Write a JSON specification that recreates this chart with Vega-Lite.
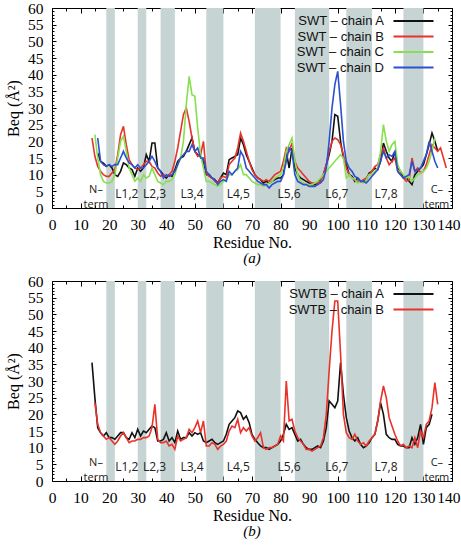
{
"$schema": "https://vega.github.io/schema/vega-lite/v6.json",
"padding": {"left": 5, "top": 0, "right": 9, "bottom": 0},
"spacing": 7,
"resolve": {"scale": {"color": "independent"}},
"config": {
 "view": {"stroke": "black", "strokeWidth": 1},
 "axis": {"grid": false, "domain": false, "tickColor": "black", "tickWidth": 1, "labelColor": "black", "labelFont": "Liberation Serif", "labelFontSize": 15.5, "titleFont": "Liberation Serif", "titleFontSize": 16, "titleFontWeight": "normal", "titleColor": "black", "labelOverlap": false, "labelFlush": false},
 "text": {"font": "Open Sans", "fontSize": 12, "color": "#222222"},
 "legend": {"orient": "none", "legendX": 330, "legendY": 6.5, "symbolType": "M1,0H9", "symbolSize": 100, "symbolStrokeWidth": 1.8, "labelAlign": "right", "labelOffset": -11, "labelFont": "Liberation Sans", "labelFontSize": 13, "labelColor": "#111111", "rowPadding": 1.5, "padding": 0}
},
"datasets": {
 "bands": [{"s":19,"e":22},{"s":30,"e":33},{"s":38,"e":43},{"s":54,"e":60},{"s":71,"e":80},{"s":85,"e":97},{"s":103,"e":112},{"s":123,"e":130}],
 "loops": [{"t":"L1,2","r":26.2},{"t":"L2,3","r":35.9},{"t":"L3,4","r":49},{"t":"L4,5","r":65.2},{"t":"L5,6","r":83},{"t":"L6,7","r":99.7},{"t":"L7,8","r":116.9}],
 "ends": [{"h":"N–","tl":"term","r":15.4},{"h":"C–","tl":"term","r":134.7}],
 "a": [
{"c":"A","r":16,"b":16.5},{"c":"A","r":17,"b":14},{"c":"A","r":18,"b":13.5},{"c":"A","r":19,"b":12.5},{"c":"A","r":20,"b":13},{"c":"A","r":21,"b":12},{"c":"A","r":22,"b":10},{"c":"A","r":23,"b":9.5},{"c":"A","r":24,"b":11},{"c":"A","r":25,"b":13.5},{"c":"A","r":26,"b":13},{"c":"A","r":27,"b":12},{"c":"A","r":28,"b":11.5},{"c":"A","r":29,"b":9.5},{"c":"A","r":30,"b":12},{"c":"A","r":31,"b":11},{"c":"A","r":32,"b":12},{"c":"A","r":33,"b":16},{"c":"A","r":34,"b":14},{"c":"A","r":35,"b":19.5},{"c":"A","r":36,"b":19.5},{"c":"A","r":37,"b":12},{"c":"A","r":38,"b":11},{"c":"A","r":39,"b":10},{"c":"A","r":40,"b":9},{"c":"A","r":41,"b":10},{"c":"A","r":42,"b":9.5},{"c":"A","r":43,"b":11.5},{"c":"A","r":44,"b":14},{"c":"A","r":45,"b":15},{"c":"A","r":46,"b":15.5},{"c":"A","r":47,"b":17},{"c":"A","r":48,"b":19},{"c":"A","r":49,"b":21},{"c":"A","r":50,"b":17},{"c":"A","r":51,"b":16},{"c":"A","r":52,"b":15.5},{"c":"A","r":53,"b":14},{"c":"A","r":54,"b":10},{"c":"A","r":55,"b":10},{"c":"A","r":56,"b":9},{"c":"A","r":57,"b":8.5},{"c":"A","r":58,"b":7.5},{"c":"A","r":59,"b":9},{"c":"A","r":60,"b":10.5},{"c":"A","r":61,"b":10},{"c":"A","r":62,"b":14.5},{"c":"A","r":63,"b":15},{"c":"A","r":64,"b":15.5},{"c":"A","r":65,"b":16},{"c":"A","r":66,"b":21},{"c":"A","r":67,"b":19},{"c":"A","r":68,"b":16},{"c":"A","r":69,"b":14},{"c":"A","r":70,"b":12},{"c":"A","r":71,"b":10},{"c":"A","r":72,"b":9},{"c":"A","r":73,"b":8.5},{"c":"A","r":74,"b":7.5},{"c":"A","r":75,"b":8},{"c":"A","r":76,"b":7.5},{"c":"A","r":77,"b":8},{"c":"A","r":78,"b":8.5},{"c":"A","r":79,"b":9},{"c":"A","r":80,"b":9},{"c":"A","r":81,"b":10},{"c":"A","r":82,"b":17},{"c":"A","r":83,"b":12},{"c":"A","r":84,"b":18},{"c":"A","r":85,"b":12},{"c":"A","r":86,"b":10},{"c":"A","r":87,"b":9},{"c":"A","r":88,"b":8.5},{"c":"A","r":89,"b":8},{"c":"A","r":90,"b":7.5},{"c":"A","r":91,"b":7},{"c":"A","r":92,"b":7},{"c":"A","r":93,"b":7.5},{"c":"A","r":94,"b":8.5},{"c":"A","r":95,"b":10},{"c":"A","r":96,"b":13},{"c":"A","r":97,"b":16},{"c":"A","r":98,"b":20},{"c":"A","r":99,"b":28},{"c":"A","r":100,"b":27.5},{"c":"A","r":101,"b":20},{"c":"A","r":102,"b":15},{"c":"A","r":103,"b":13},{"c":"A","r":104,"b":10},{"c":"A","r":105,"b":9.5},{"c":"A","r":106,"b":8},{"c":"A","r":107,"b":9},{"c":"A","r":108,"b":8},{"c":"A","r":109,"b":8},{"c":"A","r":110,"b":8.5},{"c":"A","r":111,"b":10.5},{"c":"A","r":112,"b":11},{"c":"A","r":113,"b":12},{"c":"A","r":114,"b":11.5},{"c":"A","r":115,"b":14},{"c":"A","r":116,"b":19.5},{"c":"A","r":117,"b":17},{"c":"A","r":118,"b":15},{"c":"A","r":119,"b":14},{"c":"A","r":120,"b":17},{"c":"A","r":121,"b":12},{"c":"A","r":122,"b":11},{"c":"A","r":123,"b":9},{"c":"A","r":124,"b":9},{"c":"A","r":125,"b":8},{"c":"A","r":126,"b":7},{"c":"A","r":127,"b":10},{"c":"A","r":128,"b":11},{"c":"A","r":129,"b":12},{"c":"A","r":130,"b":13},{"c":"A","r":131,"b":16},{"c":"A","r":132,"b":19},{"c":"A","r":133,"b":22.5},{"c":"A","r":134,"b":20},{"c":"A","r":135,"b":17},
{"c":"B","r":14,"b":21},{"c":"B","r":15,"b":15.5},{"c":"B","r":16,"b":12.5},{"c":"B","r":17,"b":11},{"c":"B","r":18,"b":10},{"c":"B","r":19,"b":9.5},{"c":"B","r":20,"b":9.5},{"c":"B","r":21,"b":10.5},{"c":"B","r":22,"b":11.5},{"c":"B","r":23,"b":16},{"c":"B","r":24,"b":22},{"c":"B","r":25,"b":24.5},{"c":"B","r":26,"b":19},{"c":"B","r":27,"b":14.5},{"c":"B","r":28,"b":13},{"c":"B","r":29,"b":12},{"c":"B","r":30,"b":11.5},{"c":"B","r":31,"b":12},{"c":"B","r":32,"b":13},{"c":"B","r":33,"b":14},{"c":"B","r":34,"b":14},{"c":"B","r":35,"b":12.5},{"c":"B","r":36,"b":12},{"c":"B","r":37,"b":10.5},{"c":"B","r":38,"b":9.5},{"c":"B","r":39,"b":10},{"c":"B","r":40,"b":9.5},{"c":"B","r":41,"b":10},{"c":"B","r":42,"b":11},{"c":"B","r":43,"b":14},{"c":"B","r":44,"b":18},{"c":"B","r":45,"b":23},{"c":"B","r":46,"b":28},{"c":"B","r":47,"b":30},{"c":"B","r":48,"b":26},{"c":"B","r":49,"b":21},{"c":"B","r":50,"b":17},{"c":"B","r":51,"b":15.5},{"c":"B","r":52,"b":16},{"c":"B","r":53,"b":20},{"c":"B","r":54,"b":10.5},{"c":"B","r":55,"b":9.5},{"c":"B","r":56,"b":9},{"c":"B","r":57,"b":8},{"c":"B","r":58,"b":7.5},{"c":"B","r":59,"b":9},{"c":"B","r":60,"b":9.5},{"c":"B","r":61,"b":9},{"c":"B","r":62,"b":13},{"c":"B","r":63,"b":14},{"c":"B","r":64,"b":15},{"c":"B","r":65,"b":18},{"c":"B","r":66,"b":22.5},{"c":"B","r":67,"b":20},{"c":"B","r":68,"b":17},{"c":"B","r":69,"b":14},{"c":"B","r":70,"b":11.5},{"c":"B","r":71,"b":10},{"c":"B","r":72,"b":9},{"c":"B","r":73,"b":8.5},{"c":"B","r":74,"b":8},{"c":"B","r":75,"b":8.5},{"c":"B","r":76,"b":8},{"c":"B","r":77,"b":9},{"c":"B","r":78,"b":10},{"c":"B","r":79,"b":10.5},{"c":"B","r":80,"b":11},{"c":"B","r":81,"b":14},{"c":"B","r":82,"b":18},{"c":"B","r":83,"b":17},{"c":"B","r":84,"b":19.5},{"c":"B","r":85,"b":14},{"c":"B","r":86,"b":12},{"c":"B","r":87,"b":11},{"c":"B","r":88,"b":10},{"c":"B","r":89,"b":9},{"c":"B","r":90,"b":8},{"c":"B","r":91,"b":7.5},{"c":"B","r":92,"b":7.5},{"c":"B","r":93,"b":7.5},{"c":"B","r":94,"b":8},{"c":"B","r":95,"b":10},{"c":"B","r":96,"b":13},{"c":"B","r":97,"b":17},{"c":"B","r":98,"b":20},{"c":"B","r":99,"b":21},{"c":"B","r":100,"b":20.5},{"c":"B","r":101,"b":19},{"c":"B","r":102,"b":16},{"c":"B","r":103,"b":12},{"c":"B","r":104,"b":10},{"c":"B","r":105,"b":9},{"c":"B","r":106,"b":8.5},{"c":"B","r":107,"b":8},{"c":"B","r":108,"b":8},{"c":"B","r":109,"b":8.5},{"c":"B","r":110,"b":9},{"c":"B","r":111,"b":10},{"c":"B","r":112,"b":11},{"c":"B","r":113,"b":12.5},{"c":"B","r":114,"b":13},{"c":"B","r":115,"b":16},{"c":"B","r":116,"b":18},{"c":"B","r":117,"b":15},{"c":"B","r":118,"b":13},{"c":"B","r":119,"b":14},{"c":"B","r":120,"b":15},{"c":"B","r":121,"b":11},{"c":"B","r":122,"b":10},{"c":"B","r":123,"b":9},{"c":"B","r":124,"b":8},{"c":"B","r":125,"b":8.5},{"c":"B","r":126,"b":15},{"c":"B","r":127,"b":11},{"c":"B","r":128,"b":12},{"c":"B","r":129,"b":10.5},{"c":"B","r":130,"b":11},{"c":"B","r":131,"b":13},{"c":"B","r":132,"b":16},{"c":"B","r":133,"b":19},{"c":"B","r":134,"b":18},{"c":"B","r":135,"b":17},{"c":"B","r":136,"b":18},{"c":"B","r":137,"b":15},{"c":"B","r":138,"b":12},
{"c":"C","r":15,"b":22},{"c":"C","r":16,"b":15},{"c":"C","r":17,"b":10},{"c":"C","r":18,"b":8},{"c":"C","r":19,"b":7.5},{"c":"C","r":20,"b":7.5},{"c":"C","r":21,"b":8},{"c":"C","r":22,"b":10},{"c":"C","r":23,"b":15},{"c":"C","r":24,"b":20},{"c":"C","r":25,"b":21.5},{"c":"C","r":26,"b":17},{"c":"C","r":27,"b":12},{"c":"C","r":28,"b":10},{"c":"C","r":29,"b":8},{"c":"C","r":30,"b":9},{"c":"C","r":31,"b":8},{"c":"C","r":32,"b":10},{"c":"C","r":33,"b":9},{"c":"C","r":34,"b":9.5},{"c":"C","r":35,"b":12},{"c":"C","r":36,"b":10},{"c":"C","r":37,"b":8},{"c":"C","r":38,"b":7.5},{"c":"C","r":39,"b":7},{"c":"C","r":40,"b":8},{"c":"C","r":41,"b":8},{"c":"C","r":42,"b":8.5},{"c":"C","r":43,"b":10},{"c":"C","r":44,"b":13},{"c":"C","r":45,"b":15},{"c":"C","r":46,"b":20},{"c":"C","r":47,"b":31},{"c":"C","r":48,"b":39.5},{"c":"C","r":49,"b":34},{"c":"C","r":50,"b":33.5},{"c":"C","r":51,"b":24},{"c":"C","r":52,"b":16},{"c":"C","r":53,"b":12},{"c":"C","r":54,"b":8},{"c":"C","r":55,"b":8},{"c":"C","r":56,"b":7.5},{"c":"C","r":57,"b":7},{"c":"C","r":58,"b":6.5},{"c":"C","r":59,"b":7},{"c":"C","r":60,"b":8},{"c":"C","r":61,"b":8.5},{"c":"C","r":62,"b":10},{"c":"C","r":63,"b":10},{"c":"C","r":64,"b":11},{"c":"C","r":65,"b":11.5},{"c":"C","r":66,"b":13},{"c":"C","r":67,"b":10},{"c":"C","r":68,"b":10},{"c":"C","r":69,"b":9},{"c":"C","r":70,"b":8},{"c":"C","r":71,"b":7.5},{"c":"C","r":72,"b":7},{"c":"C","r":73,"b":7},{"c":"C","r":74,"b":6.5},{"c":"C","r":75,"b":7},{"c":"C","r":76,"b":7.5},{"c":"C","r":77,"b":8},{"c":"C","r":78,"b":9},{"c":"C","r":79,"b":9.5},{"c":"C","r":80,"b":10},{"c":"C","r":81,"b":12},{"c":"C","r":82,"b":17},{"c":"C","r":83,"b":19},{"c":"C","r":84,"b":21},{"c":"C","r":85,"b":14},{"c":"C","r":86,"b":10},{"c":"C","r":87,"b":8},{"c":"C","r":88,"b":7.5},{"c":"C","r":89,"b":7},{"c":"C","r":90,"b":7},{"c":"C","r":91,"b":7},{"c":"C","r":92,"b":7.5},{"c":"C","r":93,"b":8},{"c":"C","r":94,"b":9},{"c":"C","r":95,"b":10},{"c":"C","r":96,"b":11},{"c":"C","r":97,"b":12},{"c":"C","r":98,"b":13},{"c":"C","r":99,"b":14},{"c":"C","r":100,"b":15},{"c":"C","r":101,"b":16},{"c":"C","r":102,"b":15},{"c":"C","r":103,"b":9},{"c":"C","r":104,"b":10},{"c":"C","r":105,"b":9},{"c":"C","r":106,"b":8.5},{"c":"C","r":107,"b":7.5},{"c":"C","r":108,"b":8},{"c":"C","r":109,"b":7.5},{"c":"C","r":110,"b":8.5},{"c":"C","r":111,"b":10},{"c":"C","r":112,"b":10},{"c":"C","r":113,"b":11},{"c":"C","r":114,"b":12},{"c":"C","r":115,"b":17},{"c":"C","r":116,"b":25},{"c":"C","r":117,"b":20},{"c":"C","r":118,"b":17},{"c":"C","r":119,"b":19},{"c":"C","r":120,"b":20},{"c":"C","r":121,"b":13},{"c":"C","r":122,"b":11},{"c":"C","r":123,"b":10},{"c":"C","r":124,"b":9},{"c":"C","r":125,"b":9.5},{"c":"C","r":126,"b":8},{"c":"C","r":127,"b":9},{"c":"C","r":128,"b":10},{"c":"C","r":129,"b":10.5},{"c":"C","r":130,"b":11},{"c":"C","r":131,"b":12},{"c":"C","r":132,"b":14},{"c":"C","r":133,"b":17},{"c":"C","r":134,"b":21},
{"c":"D","r":16,"b":21},{"c":"D","r":17,"b":14},{"c":"D","r":18,"b":13},{"c":"D","r":19,"b":12.5},{"c":"D","r":20,"b":13},{"c":"D","r":21,"b":12.5},{"c":"D","r":22,"b":13},{"c":"D","r":23,"b":13},{"c":"D","r":24,"b":15},{"c":"D","r":25,"b":17},{"c":"D","r":26,"b":15},{"c":"D","r":27,"b":13.5},{"c":"D","r":28,"b":13},{"c":"D","r":29,"b":12},{"c":"D","r":30,"b":13},{"c":"D","r":31,"b":12},{"c":"D","r":32,"b":12},{"c":"D","r":33,"b":13},{"c":"D","r":34,"b":14},{"c":"D","r":35,"b":15.5},{"c":"D","r":36,"b":14},{"c":"D","r":37,"b":12},{"c":"D","r":38,"b":11},{"c":"D","r":39,"b":9},{"c":"D","r":40,"b":10},{"c":"D","r":41,"b":9.5},{"c":"D","r":42,"b":10},{"c":"D","r":43,"b":11},{"c":"D","r":44,"b":13},{"c":"D","r":45,"b":15},{"c":"D","r":46,"b":16},{"c":"D","r":47,"b":17},{"c":"D","r":48,"b":17},{"c":"D","r":49,"b":19},{"c":"D","r":50,"b":17},{"c":"D","r":51,"b":18},{"c":"D","r":52,"b":15},{"c":"D","r":53,"b":15},{"c":"D","r":54,"b":11},{"c":"D","r":55,"b":10},{"c":"D","r":56,"b":9},{"c":"D","r":57,"b":8.5},{"c":"D","r":58,"b":7},{"c":"D","r":59,"b":8},{"c":"D","r":60,"b":8.5},{"c":"D","r":61,"b":8},{"c":"D","r":62,"b":11},{"c":"D","r":63,"b":10},{"c":"D","r":64,"b":11},{"c":"D","r":65,"b":12},{"c":"D","r":66,"b":17},{"c":"D","r":67,"b":15.5},{"c":"D","r":68,"b":12},{"c":"D","r":69,"b":11},{"c":"D","r":70,"b":10},{"c":"D","r":71,"b":9},{"c":"D","r":72,"b":8},{"c":"D","r":73,"b":7.5},{"c":"D","r":74,"b":7},{"c":"D","r":75,"b":7},{"c":"D","r":76,"b":6},{"c":"D","r":77,"b":7},{"c":"D","r":78,"b":7.5},{"c":"D","r":79,"b":8},{"c":"D","r":80,"b":8},{"c":"D","r":81,"b":10},{"c":"D","r":82,"b":14},{"c":"D","r":83,"b":18},{"c":"D","r":84,"b":17},{"c":"D","r":85,"b":10},{"c":"D","r":86,"b":8},{"c":"D","r":87,"b":7.5},{"c":"D","r":88,"b":7},{"c":"D","r":89,"b":7},{"c":"D","r":90,"b":6.5},{"c":"D","r":91,"b":6.5},{"c":"D","r":92,"b":6.5},{"c":"D","r":93,"b":7},{"c":"D","r":94,"b":7.5},{"c":"D","r":95,"b":8.5},{"c":"D","r":96,"b":12},{"c":"D","r":97,"b":20},{"c":"D","r":98,"b":30},{"c":"D","r":99,"b":37},{"c":"D","r":100,"b":41},{"c":"D","r":101,"b":31},{"c":"D","r":102,"b":20},{"c":"D","r":103,"b":14},{"c":"D","r":104,"b":12},{"c":"D","r":105,"b":11},{"c":"D","r":106,"b":9.5},{"c":"D","r":107,"b":9},{"c":"D","r":108,"b":8},{"c":"D","r":109,"b":8},{"c":"D","r":110,"b":7.5},{"c":"D","r":111,"b":8.5},{"c":"D","r":112,"b":9.5},{"c":"D","r":113,"b":10.5},{"c":"D","r":114,"b":11.5},{"c":"D","r":115,"b":14},{"c":"D","r":116,"b":17},{"c":"D","r":117,"b":15},{"c":"D","r":118,"b":16},{"c":"D","r":119,"b":15.5},{"c":"D","r":120,"b":17},{"c":"D","r":121,"b":11},{"c":"D","r":122,"b":10},{"c":"D","r":123,"b":9},{"c":"D","r":124,"b":9.5},{"c":"D","r":125,"b":10},{"c":"D","r":126,"b":14},{"c":"D","r":127,"b":11},{"c":"D","r":128,"b":11.5},{"c":"D","r":129,"b":12},{"c":"D","r":130,"b":14},{"c":"D","r":131,"b":16},{"c":"D","r":132,"b":20},{"c":"D","r":133,"b":17},{"c":"D","r":134,"b":14},{"c":"D","r":135,"b":12}
 ],
 "b": [
{"c":"A","r":14,"b":35.5},{"c":"A","r":15,"b":25},{"c":"A","r":16,"b":16},{"c":"A","r":17,"b":14.5},{"c":"A","r":18,"b":13.5},{"c":"A","r":19,"b":14.5},{"c":"A","r":20,"b":13},{"c":"A","r":21,"b":13},{"c":"A","r":22,"b":12.5},{"c":"A","r":23,"b":13.5},{"c":"A","r":24,"b":14.5},{"c":"A","r":25,"b":14.5},{"c":"A","r":26,"b":13},{"c":"A","r":27,"b":12.5},{"c":"A","r":28,"b":14.5},{"c":"A","r":29,"b":13},{"c":"A","r":30,"b":15.5},{"c":"A","r":31,"b":13.5},{"c":"A","r":32,"b":15},{"c":"A","r":33,"b":14.5},{"c":"A","r":34,"b":15.5},{"c":"A","r":35,"b":16.5},{"c":"A","r":36,"b":16},{"c":"A","r":37,"b":12},{"c":"A","r":38,"b":12},{"c":"A","r":39,"b":12.5},{"c":"A","r":40,"b":14.5},{"c":"A","r":41,"b":12},{"c":"A","r":42,"b":13},{"c":"A","r":43,"b":11.5},{"c":"A","r":44,"b":15},{"c":"A","r":45,"b":12.5},{"c":"A","r":46,"b":13},{"c":"A","r":47,"b":13},{"c":"A","r":48,"b":14.5},{"c":"A","r":49,"b":13.5},{"c":"A","r":50,"b":14.5},{"c":"A","r":51,"b":14},{"c":"A","r":52,"b":14.5},{"c":"A","r":53,"b":12},{"c":"A","r":54,"b":11.5},{"c":"A","r":55,"b":12},{"c":"A","r":56,"b":12.5},{"c":"A","r":57,"b":11.5},{"c":"A","r":58,"b":11},{"c":"A","r":59,"b":11.5},{"c":"A","r":60,"b":12},{"c":"A","r":61,"b":14},{"c":"A","r":62,"b":17},{"c":"A","r":63,"b":18},{"c":"A","r":64,"b":19},{"c":"A","r":65,"b":21},{"c":"A","r":66,"b":20.5},{"c":"A","r":67,"b":18.5},{"c":"A","r":68,"b":19.5},{"c":"A","r":69,"b":17.5},{"c":"A","r":70,"b":14},{"c":"A","r":71,"b":12.5},{"c":"A","r":72,"b":11.5},{"c":"A","r":73,"b":10.5},{"c":"A","r":74,"b":10},{"c":"A","r":75,"b":10},{"c":"A","r":76,"b":9.5},{"c":"A","r":77,"b":10},{"c":"A","r":78,"b":10.5},{"c":"A","r":79,"b":11},{"c":"A","r":80,"b":12},{"c":"A","r":81,"b":14},{"c":"A","r":82,"b":17},{"c":"A","r":83,"b":15.5},{"c":"A","r":84,"b":16},{"c":"A","r":85,"b":14},{"c":"A","r":86,"b":12},{"c":"A","r":87,"b":12.5},{"c":"A","r":88,"b":11},{"c":"A","r":89,"b":10},{"c":"A","r":90,"b":9.5},{"c":"A","r":91,"b":9.5},{"c":"A","r":92,"b":10},{"c":"A","r":93,"b":10.5},{"c":"A","r":94,"b":10},{"c":"A","r":95,"b":12},{"c":"A","r":96,"b":16},{"c":"A","r":97,"b":24},{"c":"A","r":98,"b":23},{"c":"A","r":99,"b":22},{"c":"A","r":100,"b":24},{"c":"A","r":101,"b":35.5},{"c":"A","r":102,"b":26},{"c":"A","r":103,"b":19},{"c":"A","r":104,"b":15},{"c":"A","r":105,"b":13},{"c":"A","r":106,"b":12},{"c":"A","r":107,"b":13},{"c":"A","r":108,"b":11},{"c":"A","r":109,"b":10},{"c":"A","r":110,"b":10.5},{"c":"A","r":111,"b":11.5},{"c":"A","r":112,"b":13},{"c":"A","r":113,"b":14},{"c":"A","r":114,"b":18},{"c":"A","r":115,"b":23.5},{"c":"A","r":116,"b":20},{"c":"A","r":117,"b":14},{"c":"A","r":118,"b":13},{"c":"A","r":119,"b":12.5},{"c":"A","r":120,"b":12.5},{"c":"A","r":121,"b":11},{"c":"A","r":122,"b":10.5},{"c":"A","r":123,"b":10.5},{"c":"A","r":124,"b":10},{"c":"A","r":125,"b":10},{"c":"A","r":126,"b":13},{"c":"A","r":127,"b":11},{"c":"A","r":128,"b":13},{"c":"A","r":129,"b":17},{"c":"A","r":130,"b":11},{"c":"A","r":131,"b":16},{"c":"A","r":132,"b":17},{"c":"A","r":133,"b":20},
{"c":"B","r":15,"b":23.5},{"c":"B","r":16,"b":17},{"c":"B","r":17,"b":14.5},{"c":"B","r":18,"b":13.5},{"c":"B","r":19,"b":12.5},{"c":"B","r":20,"b":13},{"c":"B","r":21,"b":12},{"c":"B","r":22,"b":11},{"c":"B","r":23,"b":12},{"c":"B","r":24,"b":13.5},{"c":"B","r":25,"b":14.5},{"c":"B","r":26,"b":13},{"c":"B","r":27,"b":11.5},{"c":"B","r":28,"b":12},{"c":"B","r":29,"b":12},{"c":"B","r":30,"b":12.5},{"c":"B","r":31,"b":12.5},{"c":"B","r":32,"b":13},{"c":"B","r":33,"b":13},{"c":"B","r":34,"b":13.5},{"c":"B","r":35,"b":16},{"c":"B","r":36,"b":23},{"c":"B","r":37,"b":12.5},{"c":"B","r":38,"b":11.5},{"c":"B","r":39,"b":11.5},{"c":"B","r":40,"b":12},{"c":"B","r":41,"b":10.5},{"c":"B","r":42,"b":11},{"c":"B","r":43,"b":9.5},{"c":"B","r":44,"b":13.5},{"c":"B","r":45,"b":12},{"c":"B","r":46,"b":12.5},{"c":"B","r":47,"b":13},{"c":"B","r":48,"b":15.5},{"c":"B","r":49,"b":14.5},{"c":"B","r":50,"b":16},{"c":"B","r":51,"b":18},{"c":"B","r":52,"b":14.5},{"c":"B","r":53,"b":18},{"c":"B","r":54,"b":10.5},{"c":"B","r":55,"b":10.5},{"c":"B","r":56,"b":11.5},{"c":"B","r":57,"b":11},{"c":"B","r":58,"b":9.5},{"c":"B","r":59,"b":10.5},{"c":"B","r":60,"b":11},{"c":"B","r":61,"b":12},{"c":"B","r":62,"b":15},{"c":"B","r":63,"b":16.5},{"c":"B","r":64,"b":16},{"c":"B","r":65,"b":18.5},{"c":"B","r":66,"b":14.5},{"c":"B","r":67,"b":16},{"c":"B","r":68,"b":15},{"c":"B","r":69,"b":16},{"c":"B","r":70,"b":13.5},{"c":"B","r":71,"b":12},{"c":"B","r":72,"b":13},{"c":"B","r":73,"b":14.5},{"c":"B","r":74,"b":10},{"c":"B","r":75,"b":9.5},{"c":"B","r":76,"b":10},{"c":"B","r":77,"b":10},{"c":"B","r":78,"b":10.5},{"c":"B","r":79,"b":11},{"c":"B","r":80,"b":13.5},{"c":"B","r":81,"b":12},{"c":"B","r":82,"b":30},{"c":"B","r":83,"b":18},{"c":"B","r":84,"b":18.5},{"c":"B","r":85,"b":15},{"c":"B","r":86,"b":13},{"c":"B","r":87,"b":12},{"c":"B","r":88,"b":11},{"c":"B","r":89,"b":9.5},{"c":"B","r":90,"b":9.5},{"c":"B","r":91,"b":9},{"c":"B","r":92,"b":9.5},{"c":"B","r":93,"b":10},{"c":"B","r":94,"b":10.5},{"c":"B","r":95,"b":13},{"c":"B","r":96,"b":20},{"c":"B","r":97,"b":33},{"c":"B","r":98,"b":45},{"c":"B","r":99,"b":54},{"c":"B","r":100,"b":54},{"c":"B","r":101,"b":38},{"c":"B","r":102,"b":20},{"c":"B","r":103,"b":14.5},{"c":"B","r":104,"b":13},{"c":"B","r":105,"b":12.5},{"c":"B","r":106,"b":14},{"c":"B","r":107,"b":12},{"c":"B","r":108,"b":11},{"c":"B","r":109,"b":11.5},{"c":"B","r":110,"b":10.5},{"c":"B","r":111,"b":12},{"c":"B","r":112,"b":13},{"c":"B","r":113,"b":14},{"c":"B","r":114,"b":18},{"c":"B","r":115,"b":24},{"c":"B","r":116,"b":28.5},{"c":"B","r":117,"b":25},{"c":"B","r":118,"b":19},{"c":"B","r":119,"b":16.5},{"c":"B","r":120,"b":14},{"c":"B","r":121,"b":12},{"c":"B","r":122,"b":10.5},{"c":"B","r":123,"b":11},{"c":"B","r":124,"b":10},{"c":"B","r":125,"b":10.5},{"c":"B","r":126,"b":10},{"c":"B","r":127,"b":13},{"c":"B","r":128,"b":10},{"c":"B","r":129,"b":15},{"c":"B","r":130,"b":13},{"c":"B","r":131,"b":17},{"c":"B","r":132,"b":18},{"c":"B","r":133,"b":22},{"c":"B","r":134,"b":29.5},{"c":"B","r":135,"b":23}
 ]
},
"vconcat": [
 {
  "width": 400, "height": 200,
  "title": {"text": "(a)", "orient": "bottom", "font": "Liberation Serif", "fontSize": 15, "fontStyle": "italic", "fontWeight": "normal", "color": "black", "offset": 0},
  "resolve": {"axis": {"x": "independent", "y": "independent"}},
  "layer": [
   {"data": {"name": "bands"}, "mark": {"type": "rect", "color": "#c7d4d4"},
    "encoding": {
     "x": {"field": "s", "type": "quantitative", "scale": {"domain": [0, 140], "nice": false}, "axis": {"orient": "bottom", "values": [0,10,20,30,40,50,60,70,80,90,100,110,120,130,140], "tickSize": -5, "labelPadding": 14, "labelAlign": {"condition": {"test": "datum.value == 140", "value": "right"}, "value": "center"}, "labelOffset": {"condition": {"test": "datum.value == 140", "value": 8}, "value": 0}, "title": "Residue No.", "titlePadding": 2}},
     "x2": {"field": "e"},
     "y": {"datum": 0, "type": "quantitative", "scale": {"domain": [0, 60], "nice": false}, "axis": {"orient": "left", "values": [0,5,10,15,20,25,30,35,40,45,50,55,60], "tickSize": -4, "labelPadding": 13, "title": "Beq (Å²)", "titlePadding": 6}},
     "y2": {"datum": 60}
    }},
   {"data": {"name": "a"}, "mark": {"type": "line", "strokeWidth": 1.6},
    "encoding": {
     "x": {"field": "r", "type": "quantitative", "axis": {"orient": "bottom", "values": [5,15,25,35,45,55,65,75,85,95,105,115,125,135], "tickSize": -3, "labels": false, "title": null}},
     "y": {"field": "b", "type": "quantitative", "axis": {"orient": "left", "values": [1,2,3,4,6,7,8,9,11,12,13,14,16,17,18,19,21,22,23,24,26,27,28,29,31,32,33,34,36,37,38,39,41,42,43,44,46,47,48,49,51,52,53,54,56,57,58,59], "tickSize": -2, "labels": false, "title": null}},
     "color": {"field": "c", "type": "nominal", "scale": {"domain": ["A","B","C","D"], "range": ["#111111","#e8332a","#86e050","#2c50d0"]}, "legend": {"title": null, "labelExpr": "'SWT – chain ' + datum.label"}}
    }},
   {"data": {"name": "loops"}, "mark": {"type": "text", "baseline": "middle", "align": "center"},
    "encoding": {
     "x": {"field": "r", "type": "quantitative", "axis": {"orient": "top", "values": [0,10,20,30,40,50,60,70,80,90,100,110,120,130,140], "tickSize": -5, "labels": false, "title": null}},
     "y": {"datum": 4.2, "type": "quantitative", "axis": {"orient": "right", "values": [0,5,10,15,20,25,30,35,40,45,50,55,60], "tickSize": -4, "labels": false, "title": null}},
     "text": {"field": "t"}
    }},
   {"data": {"name": "ends"}, "mark": {"type": "text", "baseline": "middle", "align": "center", "fontSize": 11},
    "encoding": {
     "x": {"field": "r", "type": "quantitative", "axis": {"orient": "top", "values": [5,15,25,35,45,55,65,75,85,95,105,115,125,135], "tickSize": -3, "labels": false, "title": null}},
     "y": {"datum": 5.3, "type": "quantitative", "axis": {"orient": "right", "values": [1,2,3,4,6,7,8,9,11,12,13,14,16,17,18,19,21,22,23,24,26,27,28,29,31,32,33,34,36,37,38,39,41,42,43,44,46,47,48,49,51,52,53,54,56,57,58,59], "tickSize": -2, "labels": false, "title": null}},
     "text": {"field": "h"}
    }},
   {"data": {"name": "ends"}, "mark": {"type": "text", "baseline": "alphabetic", "align": "center", "fontSize": 11},
    "encoding": {
     "x": {"field": "r", "type": "quantitative", "axis": null},
     "y": {"datum": 0.15, "type": "quantitative", "axis": null},
     "text": {"field": "tl"}
    }}
  ]
 },
 {
  "width": 400, "height": 200,
  "title": {"text": "(b)", "orient": "bottom", "font": "Liberation Serif", "fontSize": 15, "fontStyle": "italic", "fontWeight": "normal", "color": "black", "offset": 0},
  "resolve": {"axis": {"x": "independent", "y": "independent"}},
  "layer": [
   {"data": {"name": "bands"}, "mark": {"type": "rect", "color": "#c7d4d4"},
    "encoding": {
     "x": {"field": "s", "type": "quantitative", "scale": {"domain": [0, 140], "nice": false}, "axis": {"orient": "bottom", "values": [0,10,20,30,40,50,60,70,80,90,100,110,120,130,140], "tickSize": -5, "labelPadding": 14, "labelAlign": {"condition": {"test": "datum.value == 140", "value": "right"}, "value": "center"}, "labelOffset": {"condition": {"test": "datum.value == 140", "value": 8}, "value": 0}, "title": "Residue No.", "titlePadding": 2}},
     "x2": {"field": "e"},
     "y": {"datum": 0, "type": "quantitative", "scale": {"domain": [0, 60], "nice": false}, "axis": {"orient": "left", "values": [0,5,10,15,20,25,30,35,40,45,50,55,60], "tickSize": -4, "labelPadding": 13, "title": "Beq (Å²)", "titlePadding": 6}},
     "y2": {"datum": 60}
    }},
   {"data": {"name": "b"}, "mark": {"type": "line", "strokeWidth": 1.6},
    "encoding": {
     "x": {"field": "r", "type": "quantitative", "axis": {"orient": "bottom", "values": [5,15,25,35,45,55,65,75,85,95,105,115,125,135], "tickSize": -3, "labels": false, "title": null}},
     "y": {"field": "b", "type": "quantitative", "axis": {"orient": "left", "values": [1,2,3,4,6,7,8,9,11,12,13,14,16,17,18,19,21,22,23,24,26,27,28,29,31,32,33,34,36,37,38,39,41,42,43,44,46,47,48,49,51,52,53,54,56,57,58,59], "tickSize": -2, "labels": false, "title": null}},
     "color": {"field": "c", "type": "nominal", "scale": {"domain": ["A","B"], "range": ["#111111","#e8332a"]}, "legend": {"title": null, "labelExpr": "'SWTB – chain ' + datum.label"}}
    }},
   {"data": {"name": "loops"}, "mark": {"type": "text", "baseline": "middle", "align": "center"},
    "encoding": {
     "x": {"field": "r", "type": "quantitative", "axis": {"orient": "top", "values": [0,10,20,30,40,50,60,70,80,90,100,110,120,130,140], "tickSize": -5, "labels": false, "title": null}},
     "y": {"datum": 4.2, "type": "quantitative", "axis": {"orient": "right", "values": [0,5,10,15,20,25,30,35,40,45,50,55,60], "tickSize": -4, "labels": false, "title": null}},
     "text": {"field": "t"}
    }},
   {"data": {"name": "ends"}, "mark": {"type": "text", "baseline": "middle", "align": "center", "fontSize": 11},
    "encoding": {
     "x": {"field": "r", "type": "quantitative", "axis": {"orient": "top", "values": [5,15,25,35,45,55,65,75,85,95,105,115,125,135], "tickSize": -3, "labels": false, "title": null}},
     "y": {"datum": 5.3, "type": "quantitative", "axis": {"orient": "right", "values": [1,2,3,4,6,7,8,9,11,12,13,14,16,17,18,19,21,22,23,24,26,27,28,29,31,32,33,34,36,37,38,39,41,42,43,44,46,47,48,49,51,52,53,54,56,57,58,59], "tickSize": -2, "labels": false, "title": null}},
     "text": {"field": "h"}
    }},
   {"data": {"name": "ends"}, "mark": {"type": "text", "baseline": "alphabetic", "align": "center", "fontSize": 11},
    "encoding": {
     "x": {"field": "r", "type": "quantitative", "axis": null},
     "y": {"datum": 0.15, "type": "quantitative", "axis": null},
     "text": {"field": "tl"}
    }}
  ]
 }
]
}
